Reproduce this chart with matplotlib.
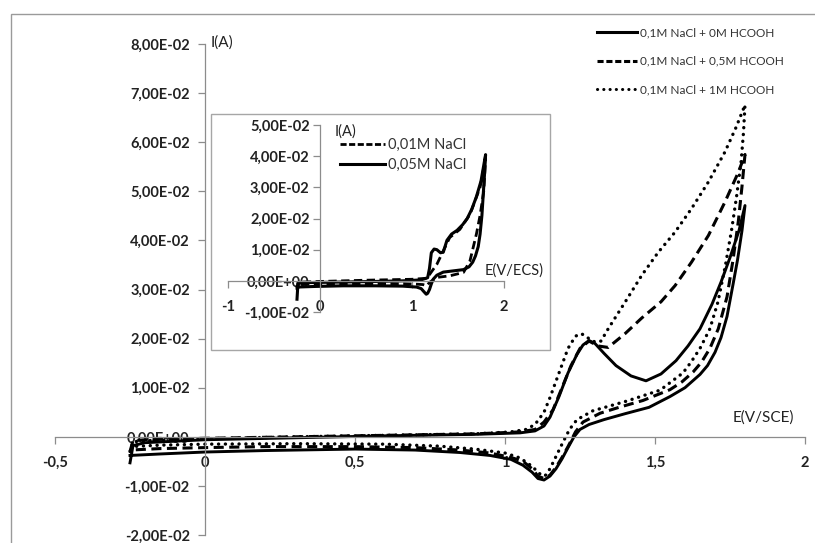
import numpy as np
import matplotlib
matplotlib.use("Agg")
import matplotlib.pyplot as plt
from matplotlib.patches import Rectangle
from matplotlib.lines import Line2D

plt.rcParams['font.family'] = ['Lato', 'DejaVu Sans']

# cyclic voltammograms, potential in V, current in 1e-2 A
# main plot: 0.1M NaCl with 0 / 0.5 / 1 M HCOOH
e_0m = [-0.25, -0.24, -0.2, 0.0, 0.3, 0.6, 0.9, 1.05, 1.1, 1.13, 1.15, 1.18, 1.21, 1.24, 1.26, 1.28,
        1.3, 1.33, 1.37, 1.42, 1.47, 1.52, 1.57, 1.61, 1.65, 1.69, 1.72, 1.75, 1.78, 1.8,
        1.79, 1.775, 1.76, 1.74, 1.72, 1.7, 1.675, 1.65, 1.6, 1.55, 1.48, 1.4, 1.33, 1.28, 1.25, 1.23,
        1.21, 1.19, 1.17, 1.15, 1.13, 1.11, 1.09, 1.06, 1.02, 0.95, 0.85, 0.7, 0.5, 0.2, 0.0, -0.15, -0.25]
i_0m = [-0.53, -0.18, -0.12, -0.06, -0.02, 0.02, 0.05, 0.08, 0.12, 0.22, 0.4, 0.82, 1.3, 1.68, 1.87, 1.96,
        1.9, 1.7, 1.45, 1.24, 1.14, 1.28, 1.55, 1.85, 2.2, 2.7, 3.15, 3.65, 4.2, 4.71,
        4.2, 3.6, 3.1, 2.45, 2.02, 1.72, 1.45, 1.27, 1.0, 0.82, 0.6, 0.47, 0.35, 0.25, 0.15, 0.0,
        -0.22, -0.45, -0.65, -0.8, -0.88, -0.85, -0.72, -0.58, -0.46, -0.38, -0.32, -0.27, -0.25, -0.28, -0.31, -0.35, -0.38]

e_05m = [-0.25, -0.24, -0.2, 0.0, 0.3, 0.6, 0.9, 1.05, 1.1, 1.13, 1.16, 1.19, 1.22, 1.25, 1.28, 1.31,
         1.344, 1.4, 1.456, 1.52, 1.567, 1.622, 1.678, 1.733, 1.778, 1.8,
         1.79, 1.778, 1.76, 1.74, 1.711, 1.683, 1.655, 1.627, 1.59, 1.55, 1.46, 1.38, 1.317, 1.26, 1.235, 1.21,
         1.19, 1.17, 1.15, 1.13, 1.11, 1.09, 1.06, 1.02, 0.95, 0.85, 0.7, 0.5, 0.2, 0.0, -0.15, -0.25]
i_05m = [-0.3, -0.08, -0.06, -0.03, 0.0, 0.03, 0.06, 0.1, 0.15, 0.3, 0.55, 1.0, 1.45, 1.8, 1.95, 1.85,
         1.82, 2.1, 2.42, 2.75, 3.08, 3.56, 4.1, 4.78, 5.39, 5.75,
         5.1, 4.4, 3.6, 2.85, 2.2, 1.8, 1.52, 1.32, 1.12, 0.96, 0.74, 0.6, 0.48, 0.3, 0.1, -0.2,
         -0.42, -0.62, -0.78, -0.85, -0.8, -0.65, -0.5, -0.42, -0.33, -0.27, -0.22, -0.2, -0.2, -0.22, -0.24, -0.27]

e_1m = [-0.25, -0.24, -0.2, 0.0, 0.3, 0.6, 0.9, 1.02, 1.07, 1.1, 1.13, 1.15, 1.18, 1.21, 1.235, 1.255,
        1.28, 1.3, 1.32, 1.344, 1.4, 1.456, 1.511, 1.567, 1.622, 1.678, 1.733, 1.77, 1.8,
        1.795, 1.787, 1.772, 1.756, 1.735, 1.71, 1.683, 1.65, 1.62, 1.593, 1.517, 1.407, 1.293, 1.24, 1.215,
        1.19, 1.17, 1.15, 1.133, 1.115, 1.09, 1.05, 1.0, 0.9, 0.78, 0.6, 0.3, 0.0, -0.15, -0.25]
i_1m = [-0.3, -0.1, -0.08, -0.04, 0.0, 0.03, 0.06, 0.1, 0.15, 0.25, 0.5, 0.8, 1.3, 1.8, 2.05, 2.1,
        2.0, 1.93, 1.95, 2.2, 2.74, 3.29, 3.76, 4.17, 4.65, 5.19, 5.8, 6.3, 6.76,
        6.2, 5.6, 4.9, 4.24, 3.5, 2.75, 2.2, 1.8, 1.52, 1.3, 0.95, 0.73, 0.53, 0.35, 0.15,
        -0.15, -0.4, -0.65, -0.8, -0.75, -0.6, -0.43, -0.33, -0.25, -0.19, -0.15, -0.14, -0.15, -0.17, -0.2]

# inset: 0.01M and 0.05M NaCl
e_001 = [-0.25, -0.24, -0.2, 0.0, 0.5, 1.0, 1.15, 1.19, 1.27, 1.34, 1.41, 1.52, 1.63, 1.74, 1.8,
         1.78, 1.74, 1.70, 1.63, 1.56, 1.41, 1.27, 1.19, 1.16, 1.12, 1.0, 0.5, 0.0, -0.25]
i_001 = [-0.3, -0.05, -0.04, -0.02, 0.02, 0.05, 0.08, 0.2, 0.53, 0.96, 1.39, 1.65, 2.13, 3.0, 3.95,
         2.88, 2.1, 1.5, 0.64, 0.27, 0.16, 0.11, -0.05, -0.16, -0.12, -0.1, -0.09, -0.1, -0.12]

e_005 = [-0.25, -0.24, -0.2, 0.2, 0.6, 0.9, 1.1, 1.17, 1.19, 1.21, 1.24, 1.27, 1.31, 1.34, 1.38, 1.43,
         1.49, 1.55, 1.6, 1.65, 1.7, 1.75, 1.8,
         1.79, 1.775, 1.76, 1.74, 1.72, 1.69, 1.66, 1.62, 1.56, 1.45, 1.34, 1.27, 1.23, 1.21, 1.19,
         1.17, 1.155, 1.13, 1.1, 1.05, 0.9, 0.6, 0.25, -0.05, -0.25]
i_005 = [-0.59, -0.1, -0.06, -0.04, -0.02, 0.0, 0.03, 0.1, 0.4, 0.9, 1.02, 1.0, 0.9, 0.92, 1.3, 1.5,
         1.62, 1.8, 2.0, 2.3, 2.7, 3.2, 4.05,
         3.5, 2.8, 2.1, 1.5, 1.1, 0.8, 0.6, 0.45, 0.36, 0.32, 0.28, 0.18, 0.05, -0.1, -0.28,
         -0.4, -0.43, -0.35, -0.25, -0.2, -0.17, -0.16, -0.16, -0.18, -0.2]

main_labels = ['0,1M NaCl + 0M HCOOH', '0,1M NaCl + 0,5M HCOOH', '0,1M NaCl + 1M HCOOH']
inset_labels = ['0,01M NaCl', '0,05M NaCl']

x_ticks = [-0.5, 0, 0.5, 1, 1.5, 2]
x_ticklabels = ['-0,5', '0', '0,5', '1', '1,5', '2']
y_ticks = [-0.02, -0.01, 0, 0.01, 0.02, 0.03, 0.04, 0.05, 0.06, 0.07, 0.08]
y_ticklabels = ['-2,00E-02', '-1,00E-02', '0,00E+00', '1,00E-02', '2,00E-02', '3,00E-02',
                '4,00E-02', '5,00E-02', '6,00E-02', '7,00E-02', '8,00E-02']
inset_x_ticks = [-1, 0, 1, 2]
inset_x_ticklabels = ['-1', '0', '1', '2']
inset_y_ticks = [-0.01, 0, 0.01, 0.02, 0.03, 0.04, 0.05]
inset_y_ticklabels = ['-1,00E-02', '0,00E+00', '1,00E-02', '2,00E-02', '3,00E-02', '4,00E-02', '5,00E-02']

W, H = 815, 543
gray = '#8c8c8c'
dashed = (0, (3.3, 1.8))
dotted = (0, (0.05, 2.0))


def px_box(x0, y0, x1, y1):
    # pixel box (top-left origin) -> figure fraction [left, bottom, width, height]
    return [x0 / W, 1 - y1 / H, (x1 - x0) / W, (y1 - y0) / H]


def style_axes(ax, xt, xtl, yt, ytl, ypad):
    for s in ['top', 'right']:
        ax.spines[s].set_visible(False)
    ax.spines['left'].set_position(('data', 0))
    ax.spines['bottom'].set_position(('data', 0))
    for s in ['left', 'bottom']:
        ax.spines[s].set_color(gray)
        ax.spines[s].set_linewidth(0.9)
    ax.set_xticks(xt)
    ax.set_xticklabels(xtl)
    ax.set_yticks(yt)
    ax.set_yticklabels(ytl)
    ax.tick_params(axis='x', direction='out', length=5, width=0.9, color=gray, pad=9,
                   labelsize=10.5)
    ax.tick_params(axis='y', direction='out', length=5, width=0.9, color=gray, pad=ypad,
                   labelsize=10.5)
    for lab in ax.get_xticklabels() + ax.get_yticklabels():
        lab.set_fontweight('bold')
        lab.set_color('#222222')


fig = plt.figure(figsize=(W / 100, H / 100), dpi=100)

# outer chart frame
fig.patches.append(Rectangle((11 / W, -0.1), 1.0, 1.1 - 14 / H, transform=fig.transFigure,
                             fill=False, edgecolor='#9a9a9a', lw=1.0, zorder=0))

ax = fig.add_axes(px_box(55, 44, 805, 535))
ax.patch.set_visible(False)
ax.set_xlim(-0.5, 2)
ax.set_ylim(-0.02, 0.08)
style_axes(ax, x_ticks, x_ticklabels, y_ticks, y_ticklabels, 6)

ax.plot(e_0m, np.array(i_0m) * 1e-2, color='black', lw=2.1)
ax.plot(e_05m, np.array(i_05m) * 1e-2, color='black', lw=2.2, linestyle=dashed)
ax.plot(e_1m, np.array(i_1m) * 1e-2, color='black', lw=2.4, linestyle=dotted,
        dash_capstyle='round')

ax.text(0.018, 0.0802, 'I(A)', fontsize=11, va='center', ha='left', color='#222222')
ax.text(1.76, 0.0039, 'E(V/SCE)', fontsize=11, va='center', ha='left', color='#222222')

handles = [Line2D([], [], color='black', lw=2.2),
           Line2D([], [], color='black', lw=2.2, linestyle=(0, (2.0, 0.9))),
           Line2D([], [], color='black', lw=2.2, linestyle=dotted, dash_capstyle='round')]
leg = fig.legend(handles, main_labels, loc='upper left', bbox_to_anchor=(597 / W, 1 - 27 / H),
                 frameon=False, fontsize=8.5, handlelength=3.4, handletextpad=0.25,
                 labelspacing=1.5, borderpad=0, borderaxespad=0)
for t in leg.get_texts():
    t.set_color('#333333')

# inset box and axes
fig.patches.append(Rectangle((211 / W, 1 - 350 / H), 339 / W, 236 / H, transform=fig.transFigure,
                             facecolor='white', edgecolor='#a6a6a6', lw=1.0, zorder=1))

ins = fig.add_axes(px_box(228, 125, 504, 312))
ins.set_zorder(2)
ins.patch.set_visible(False)
ins.set_xlim(-1, 2)
ins.set_ylim(-0.01, 0.05)
style_axes(ins, inset_x_ticks, inset_x_ticklabels, inset_y_ticks, inset_y_ticklabels, 2.5)

ins.plot(e_001, np.array(i_001) * 1e-2, color='black', lw=2.0, linestyle=(0, (3.0, 1.6)))
ins.plot(e_005, np.array(i_005) * 1e-2, color='black', lw=2.2)

ins.text(0.16, 0.048, 'I(A)', fontsize=10.5, va='center', ha='left', color='#222222')
ins.text(1.79, 0.0032, 'E(V/ECS)', fontsize=10.5, va='center', ha='left', color='#222222')

ih = [Line2D([], [], color='black', lw=2.0, linestyle=(0, (2.2, 0.9))),
      Line2D([], [], color='black', lw=2.2)]
ileg = fig.legend(ih, inset_labels, loc='upper left', bbox_to_anchor=(340 / W, 1 - 138 / H),
                  frameon=False, fontsize=10.5, handlelength=3.1, handletextpad=0.2,
                  labelspacing=0.4, borderpad=0, borderaxespad=0)
ileg.set_zorder(3)
for t in ileg.get_texts():
    t.set_color('#333333')

fig.savefig('out.png', dpi=100)
